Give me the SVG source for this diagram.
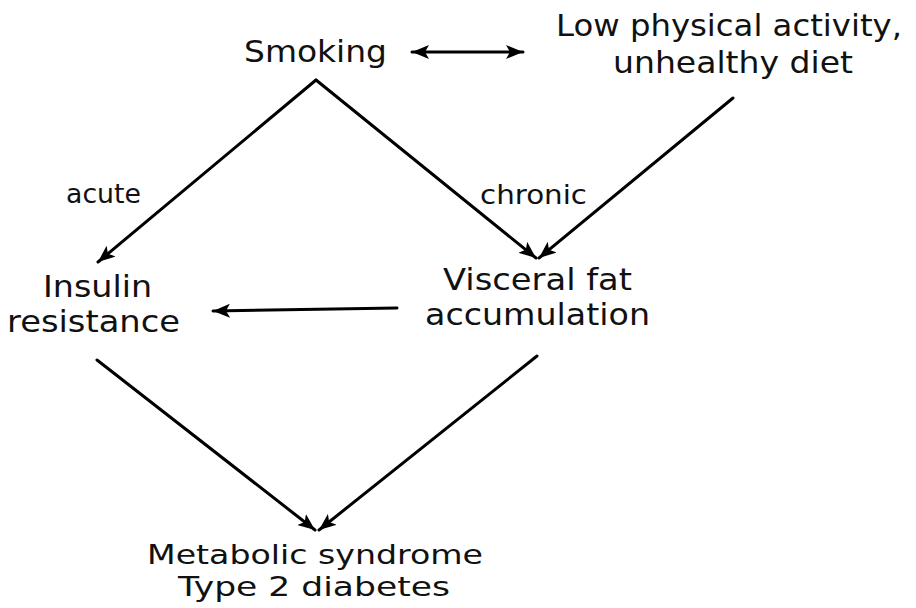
<svg xmlns="http://www.w3.org/2000/svg" width="916" height="608" viewBox="0 0 916 608">
<defs>
<marker id="ah" markerUnits="userSpaceOnUse" markerWidth="18" markerHeight="14" viewBox="0 0 18 14" refX="17" refY="7" orient="auto-start-reverse">
<path d="M0,0 L17,7 L0,14 L4,7 Z" fill="#000"/>
</marker>
<style>
.t{font-family:"DejaVu Sans","Liberation Sans",sans-serif;font-size:30px;fill:#111;}
.b{font-family:"DejaVu Sans","Liberation Sans",sans-serif;font-size:27px;fill:#111;}
.l{font-family:"DejaVu Sans","Liberation Sans",sans-serif;font-size:26px;fill:#111;}
.c{stroke:#000;stroke-width:3;fill:none;stroke-linecap:round;}
</style>
</defs>
<rect width="916" height="608" fill="#fff"/>
<g id="smoking"><text class="t" x="244" y="62" textLength="143" lengthAdjust="spacingAndGlyphs">Smoking</text></g>
<g id="lifestyle">
<text class="t" x="556" y="36" textLength="346" lengthAdjust="spacingAndGlyphs">Low physical activity,</text>
<text class="t" x="613" y="73" textLength="240" lengthAdjust="spacingAndGlyphs">unhealthy diet</text>
</g>
<g id="insulin">
<text class="t" x="43" y="297" textLength="109" lengthAdjust="spacingAndGlyphs">Insulin</text>
<text class="t" x="7" y="332" textLength="173" lengthAdjust="spacingAndGlyphs">resistance</text>
</g>
<g id="visceral">
<text class="t" x="443" y="290" textLength="189" lengthAdjust="spacingAndGlyphs">Visceral fat</text>
<text class="t" x="425" y="325" textLength="225" lengthAdjust="spacingAndGlyphs">accumulation</text>
</g>
<g id="metabolic">
<text class="b" x="147" y="564" textLength="336" lengthAdjust="spacingAndGlyphs">Metabolic syndrome</text>
<text class="b" x="178" y="596" textLength="272" lengthAdjust="spacingAndGlyphs">Type 2 diabetes</text>
</g>
<g id="connectors">
<line class="c" x1="412" y1="52" x2="523" y2="52" marker-start="url(#ah)" marker-end="url(#ah)"/>
<line class="c" x1="316" y1="80" x2="98" y2="262" marker-end="url(#ah)"/>
<line class="c" x1="316" y1="80" x2="536" y2="258" marker-end="url(#ah)"/>
<line class="c" x1="733" y1="98" x2="539" y2="258" marker-end="url(#ah)"/>
<line class="c" x1="397" y1="308" x2="213" y2="311" marker-end="url(#ah)"/>
<line class="c" x1="97" y1="360" x2="315" y2="530" marker-end="url(#ah)"/>
<line class="c" x1="537" y1="356" x2="319" y2="530" marker-end="url(#ah)"/>
<text class="l" x="66" y="203" textLength="75" lengthAdjust="spacingAndGlyphs">acute</text>
<text class="l" x="480" y="204" textLength="107" lengthAdjust="spacingAndGlyphs">chronic</text>
</g>
</svg>
